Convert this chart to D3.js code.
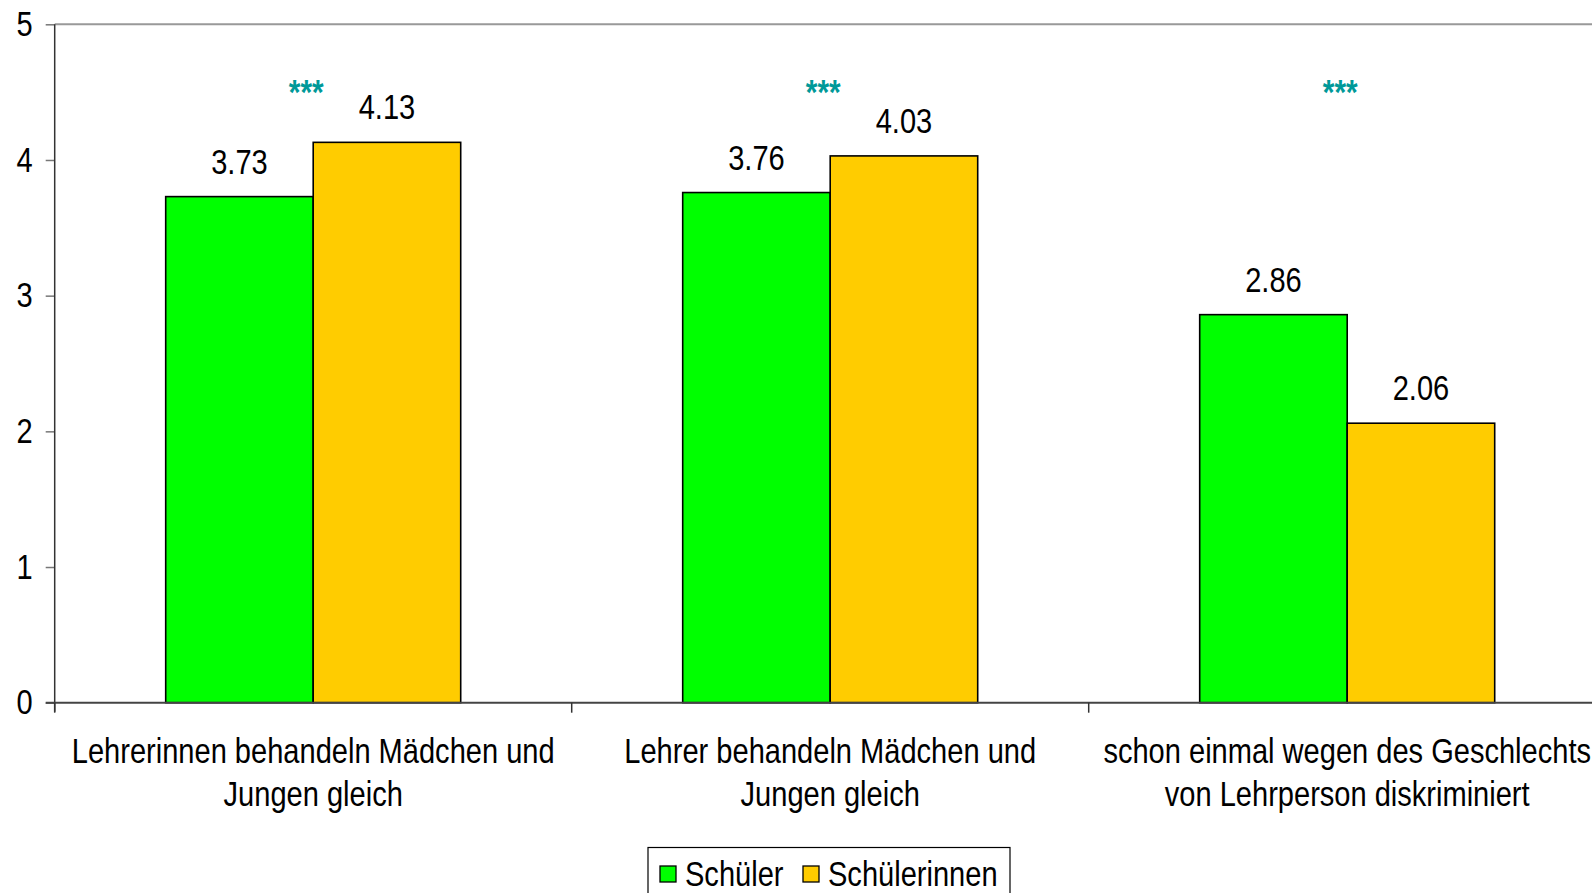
<!DOCTYPE html>
<html>
<head>
<meta charset="utf-8">
<script src="https://cdn.jsdelivr.net/npm/d3@7"></script>
<style>
  html, body { margin: 0; padding: 0; background: #fff; }
  svg { display: block; }
  text { font-family: "Liberation Sans Narrow", "Arial Narrow", "Liberation Sans", Arial, sans-serif; }
</style>
</head>
<body>
<svg id="chart" width="1592" height="893"></svg>
<script>
// ---- data ----
const categories = [
  ["Lehrerinnen behandeln Mädchen und", "Jungen gleich"],
  ["Lehrer behandeln Mädchen und", "Jungen gleich"],
  ["schon einmal wegen des Geschlechts", "von Lehrperson diskriminiert"]
];
const seriesNames = ["Schüler", "Schülerinnen"];
const schueler = [3.73, 3.76, 2.86];
const schuelerinnen = [4.13, 4.03, 2.06];
const significance = ["***", "***", "***"];
const yTicks = [0, 1, 2, 3, 4, 5];

(function () {
const colors = { "Schüler": "#00FF00", "Schülerinnen": "#FFCC00" };
const seriesValues = { "Schüler": schueler, "Schülerinnen": schuelerinnen };
const SX = 0.83; // narrow-font emulation

const svg = d3.select("#chart");
const mLeft = 54.7, mTop = 24.3, mBottom = 702.7, band = 517;
const catKeys = categories.map((c, i) => i);

const x0 = d3.scaleBand().domain(catKeys).range([mLeft, mLeft + band * 3]).paddingInner(0).paddingOuter(0);
const x1 = d3.scaleBand().domain(seriesNames).range([0, x0.bandwidth()]).paddingInner(0).paddingOuter(0.7525);
const y = d3.scaleLinear().domain([0, 5]).range([mBottom, mTop]);

function ntext(parent, x, yy, txt, size, anchor) {
  return parent.append("text")
    .attr("transform", `translate(${x},${yy}) scale(${SX},1)`)
    .attr("text-anchor", anchor || "middle")
    .attr("font-size", size)
    .attr("fill", "#000")
    .text(txt);
}

// top border line (plot area)
svg.append("line")
  .attr("x1", mLeft).attr("x2", 1592)
  .attr("y1", y(5)).attr("y2", y(5))
  .attr("stroke", "#999").attr("stroke-width", 2);

// bars
catKeys.forEach(i => {
  seriesNames.forEach(s => {
    const v = seriesValues[s][i];
    svg.append("rect")
      .attr("x", x0(i) + x1(s))
      .attr("y", y(v))
      .attr("width", x1.bandwidth())
      .attr("height", y(0) - y(v))
      .attr("fill", colors[s])
      .attr("stroke", "#000")
      .attr("stroke-width", 1.6);
    ntext(svg, x0(i) + x1(s) + x1.bandwidth() / 2, y(v) - 23, v.toFixed(2), 35);
  });
  ntext(svg, x0(i) + x0.bandwidth() / 2 - 7, 104, significance[i], 36)
    .attr("font-weight", "bold")
    .attr("fill", "#009999");
});

// y axis
const yAxis = d3.axisLeft(y).tickValues(yTicks).tickSize(9).tickPadding(13).tickFormat(d3.format("d"));
const gy = svg.append("g").attr("transform", `translate(${mLeft},0)`).call(yAxis);
gy.select(".domain").remove();
gy.selectAll(".tick line").attr("stroke", "#777").attr("stroke-width", 1.5);
gy.selectAll(".tick text")
  .attr("x", 0)
  .attr("transform", `translate(-22,0) scale(${SX},1)`)
  .attr("font-size", 35).attr("fill", "#000")
  .attr("font-family", "Liberation Sans Narrow, Arial Narrow, Liberation Sans, sans-serif");
svg.append("line")
  .attr("x1", mLeft).attr("x2", mLeft)
  .attr("y1", y(5)).attr("y2", y(0) + 9)
  .attr("stroke", "#333").attr("stroke-width", 1.5);

// x axis
svg.append("line")
  .attr("x1", mLeft - 9).attr("x2", 1592)
  .attr("y1", y(0)).attr("y2", y(0))
  .attr("stroke", "#444").attr("stroke-width", 2);
catKeys.forEach(i => {
  svg.append("line")
    .attr("x1", x0(i)).attr("x2", x0(i))
    .attr("y1", y(0)).attr("y2", y(0) + 10)
    .attr("stroke", "#333").attr("stroke-width", 1.5);
  const t = ntext(svg, x0(i) + x0.bandwidth() / 2, 763, "", 35);
  categories[i].forEach((line, k) => {
    t.append("tspan")
      .attr("x", 0)
      .attr("y", k * 43)
      .text(line);
  });
});

// legend
const lg = svg.append("g");
lg.append("rect")
  .attr("x", 648).attr("y", 847.5)
  .attr("width", 362).attr("height", 60)
  .attr("fill", "#fff").attr("stroke", "#000").attr("stroke-width", 1.2);
const legendX = [660, 803];
seriesNames.forEach((s, k) => {
  lg.append("rect")
    .attr("x", legendX[k]).attr("y", 866)
    .attr("width", 16).attr("height", 16)
    .attr("fill", colors[s]).attr("stroke", "#000").attr("stroke-width", 1.3);
  ntext(lg, legendX[k] + 25, 886, s, 35, "start");
});
})();
</script>
</body>
</html>
